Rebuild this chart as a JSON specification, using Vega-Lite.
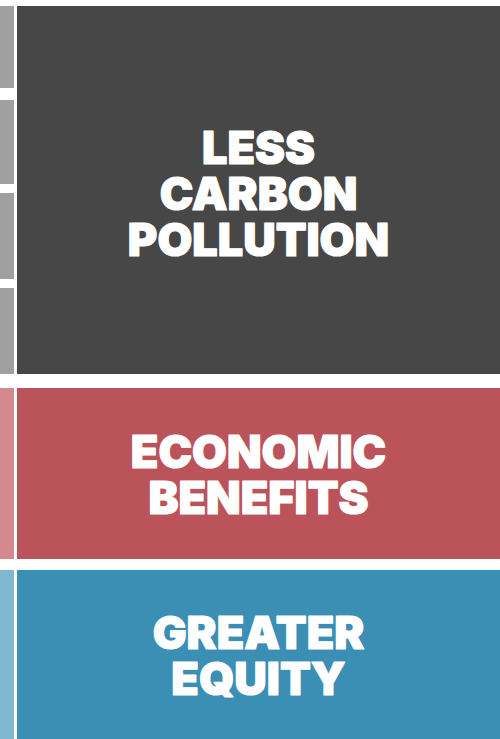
{
  "$schema": "https://vega.github.io/schema/vega-lite/v6.json",
  "width": 500,
  "height": 739,
  "padding": 0,
  "autosize": {"type": "none"},
  "background": "#ffffff",
  "config": {"view": {"stroke": null}},
  "datasets": {
    "blocks": [
      {"group": "carbon", "kind": "detail", "x0": 0, "x1": 14, "y0": 6, "y1": 88},
      {"group": "carbon", "kind": "detail", "x0": 0, "x1": 14, "y0": 100, "y1": 184},
      {"group": "carbon", "kind": "detail", "x0": 0, "x1": 14, "y0": 193, "y1": 279},
      {"group": "carbon", "kind": "detail", "x0": 0, "x1": 14, "y0": 288, "y1": 374},
      {"group": "economic", "kind": "detail", "x0": 0, "x1": 14, "y0": 388, "y1": 559},
      {"group": "equity", "kind": "detail", "x0": 0, "x1": 14, "y0": 570, "y1": 739},
      {"group": "carbon", "kind": "main", "x0": 17, "x1": 500, "y0": 6, "y1": 374, "label": "LESS\nCARBON\nPOLLUTION"},
      {"group": "economic", "kind": "main", "x0": 17, "x1": 500, "y0": 388, "y1": 559, "label": "ECONOMIC\nBENEFITS"},
      {"group": "equity", "kind": "main", "x0": 17, "x1": 500, "y0": 570, "y1": 739, "label": "GREATER\nEQUITY"}
    ]
  },
  "data": {"name": "blocks"},
  "layer": [
    {
      "mark": {"type": "rect"},
      "encoding": {
        "x": {"field": "x0", "type": "quantitative", "scale": {"domain": [0, 500], "nice": false, "zero": false}, "axis": null},
        "x2": {"field": "x1"},
        "y": {"field": "y0", "type": "quantitative", "scale": {"domain": [0, 739], "nice": false, "zero": false, "reverse": true}, "axis": null},
        "y2": {"field": "y1"},
        "color": {
          "field": "key",
          "type": "nominal",
          "scale": {
            "domain": ["carbon-detail", "carbon-main", "economic-detail", "economic-main", "equity-detail", "equity-main"],
            "range": ["#a0a0a0", "#474747", "#d48990", "#bb535b", "#7fb8cf", "#3b8eb4"]
          },
          "legend": null
        }
      },
      "transform": [{"calculate": "datum.group + '-' + datum.kind", "as": "key"}]
    },
    {
      "transform": [
        {"filter": "datum.kind === 'main'"},
        {"calculate": "(datum.x0 + datum.x1) / 2", "as": "xm"},
        {"calculate": "(datum.y0 + datum.y1) / 2 - (split(datum.label, '\\n').length - 1) * 20", "as": "ym"}
      ],
      "mark": {
        "type": "text",
        "font": "Inter",
        "fontWeight": 900,
        "fontSize": 45,
        "lineHeight": 46,
        "lineBreak": "\n",
        "align": "center",
        "baseline": "middle",
        "color": "#ffffff",
        "stroke": "#ffffff",
        "strokeWidth": 1.2,
        "strokeJoin": "round"
      },
      "encoding": {
        "x": {"field": "xm", "type": "quantitative"},
        "y": {"field": "ym", "type": "quantitative"},
        "text": {"field": "label", "type": "nominal"}
      }
    }
  ]
}
